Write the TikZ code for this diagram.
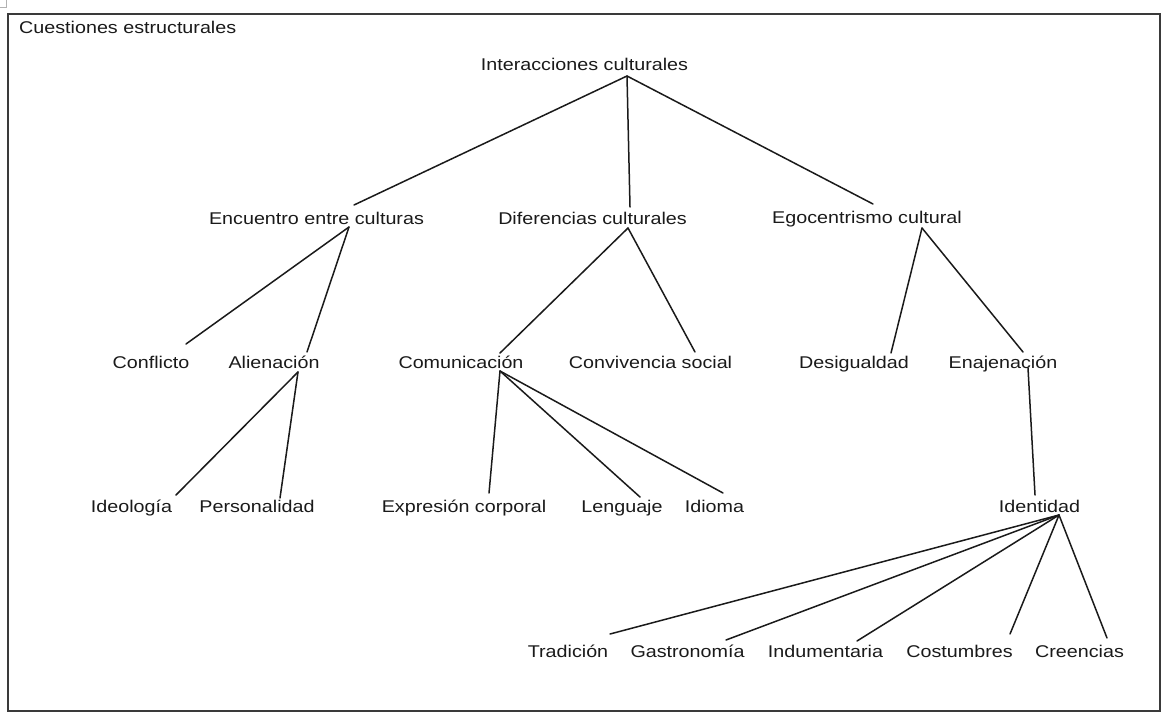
\documentclass[tikz,border=0pt]{standalone}
\usepackage{fontspec}
\setmainfont{Liberation Sans}[FakeStretch=1.16]
\definecolor{txt}{HTML}{1A1A1A}
\definecolor{frm}{HTML}{3A3A3A}
\tikzset{
  lbl/.style={anchor=base, inner sep=0pt, text=txt, font=\fontsize{17}{20}\selectfont},
  edge/.style={draw=txt, line width=1.5pt, line cap=round},
  frame/.style={draw=frm, line width=1.5pt}
}
\begin{document}
\begin{tikzpicture}[x=1pt, y=-1pt]
\useasboundingbox (0,0) rectangle (1161,713);
% tiny handle at top-left
\draw[draw=gray!60, line width=0.8pt] (-1,-1) rectangle (6,7);
% frame
\draw[frame] (8,14) rectangle (1160,711);
\node[lbl, anchor=base west] (cuest) at (19,33) {Cuestiones estructurales};
% nodes
\node[lbl] (inter) at (584.5,70) {Interacciones culturales};
\node[lbl] (enc) at (316.5,224) {Encuentro entre culturas};
\node[lbl] (dif) at (592.5,224) {Diferencias culturales};
\node[lbl] (ego) at (867,223) {Egocentrismo cultural};
\node[lbl] (conf) at (151,368) {Conflicto};
\node[lbl] (alien) at (274,368) {Alienación};
\node[lbl] (comun) at (461,368) {Comunicación};
\node[lbl] (conv) at (650.5,368) {Convivencia social};
\node[lbl] (desig) at (854,368) {Desigualdad};
\node[lbl] (enaj) at (1003,368) {Enajenación};
\node[lbl] (ideo) at (131.5,512) {Ideología};
\node[lbl] (pers) at (257,512) {Personalidad};
\node[lbl] (expr) at (464,512) {Expresión corporal};
\node[lbl] (leng) at (622,512) {Lenguaje};
\node[lbl] (idioma) at (714.5,512) {Idioma};
\node[lbl] (ident) at (1039.5,512) {Identidad};
\node[lbl] (trad) at (568,657) {Tradición};
\node[lbl] (gast) at (687.5,657) {Gastronomía};
\node[lbl] (indu) at (825.5,657) {Indumentaria};
\node[lbl] (cost) at (959.5,657) {Costumbres};
\node[lbl] (cree) at (1079.5,657) {Creencias};
% connection points
\coordinate (inter-b) at (627,76);
\coordinate (enc-t) at (354,205);
\coordinate (enc-b) at (349,227);
\coordinate (dif-t) at (630,207);
\coordinate (dif-b) at (628,228);
\coordinate (ego-t) at (873,204);
\coordinate (ego-b) at (922,228);
\coordinate (conf-t) at (186,344);
\coordinate (alien-t) at (307,352);
\coordinate (alien-b) at (298,372);
\coordinate (comun-t) at (500,353);
\coordinate (comun-b) at (500,371);
\coordinate (conv-t) at (695,352);
\coordinate (desig-t) at (891,353);
\coordinate (enaj-t) at (1023,352);
\coordinate (enaj-b) at (1028,368);
\coordinate (ideo-t) at (176,495);
\coordinate (pers-t) at (280,498);
\coordinate (expr-t) at (489,493);
\coordinate (leng-t) at (640,497);
\coordinate (idioma-t) at (723,493);
\coordinate (ident-t) at (1035,495);
\coordinate (ident-b) at (1059,515);
\coordinate (trad-t) at (610,634);
\coordinate (gast-t) at (726,640);
\coordinate (indu-t) at (857,641);
\coordinate (cost-t) at (1010,634);
\coordinate (cree-t) at (1107,638);
% connectors
\draw[edge] (inter-b) -- (enc-t);
\draw[edge] (inter-b) -- (dif-t);
\draw[edge] (inter-b) -- (ego-t);
\draw[edge] (enc-b) -- (conf-t);
\draw[edge] (enc-b) -- (alien-t);
\draw[edge] (dif-b) -- (comun-t);
\draw[edge] (dif-b) -- (conv-t);
\draw[edge] (ego-b) -- (desig-t);
\draw[edge] (ego-b) -- (enaj-t);
\draw[edge] (alien-b) -- (ideo-t);
\draw[edge] (alien-b) -- (pers-t);
\draw[edge] (comun-b) -- (expr-t);
\draw[edge] (comun-b) -- (leng-t);
\draw[edge] (comun-b) -- (idioma-t);
\draw[edge] (enaj-b) -- (ident-t);
\draw[edge] (ident-b) -- (trad-t);
\draw[edge] (ident-b) -- (gast-t);
\draw[edge] (ident-b) -- (indu-t);
\draw[edge] (ident-b) -- (cost-t);
\draw[edge] (ident-b) -- (cree-t);
\end{tikzpicture}
\end{document}
